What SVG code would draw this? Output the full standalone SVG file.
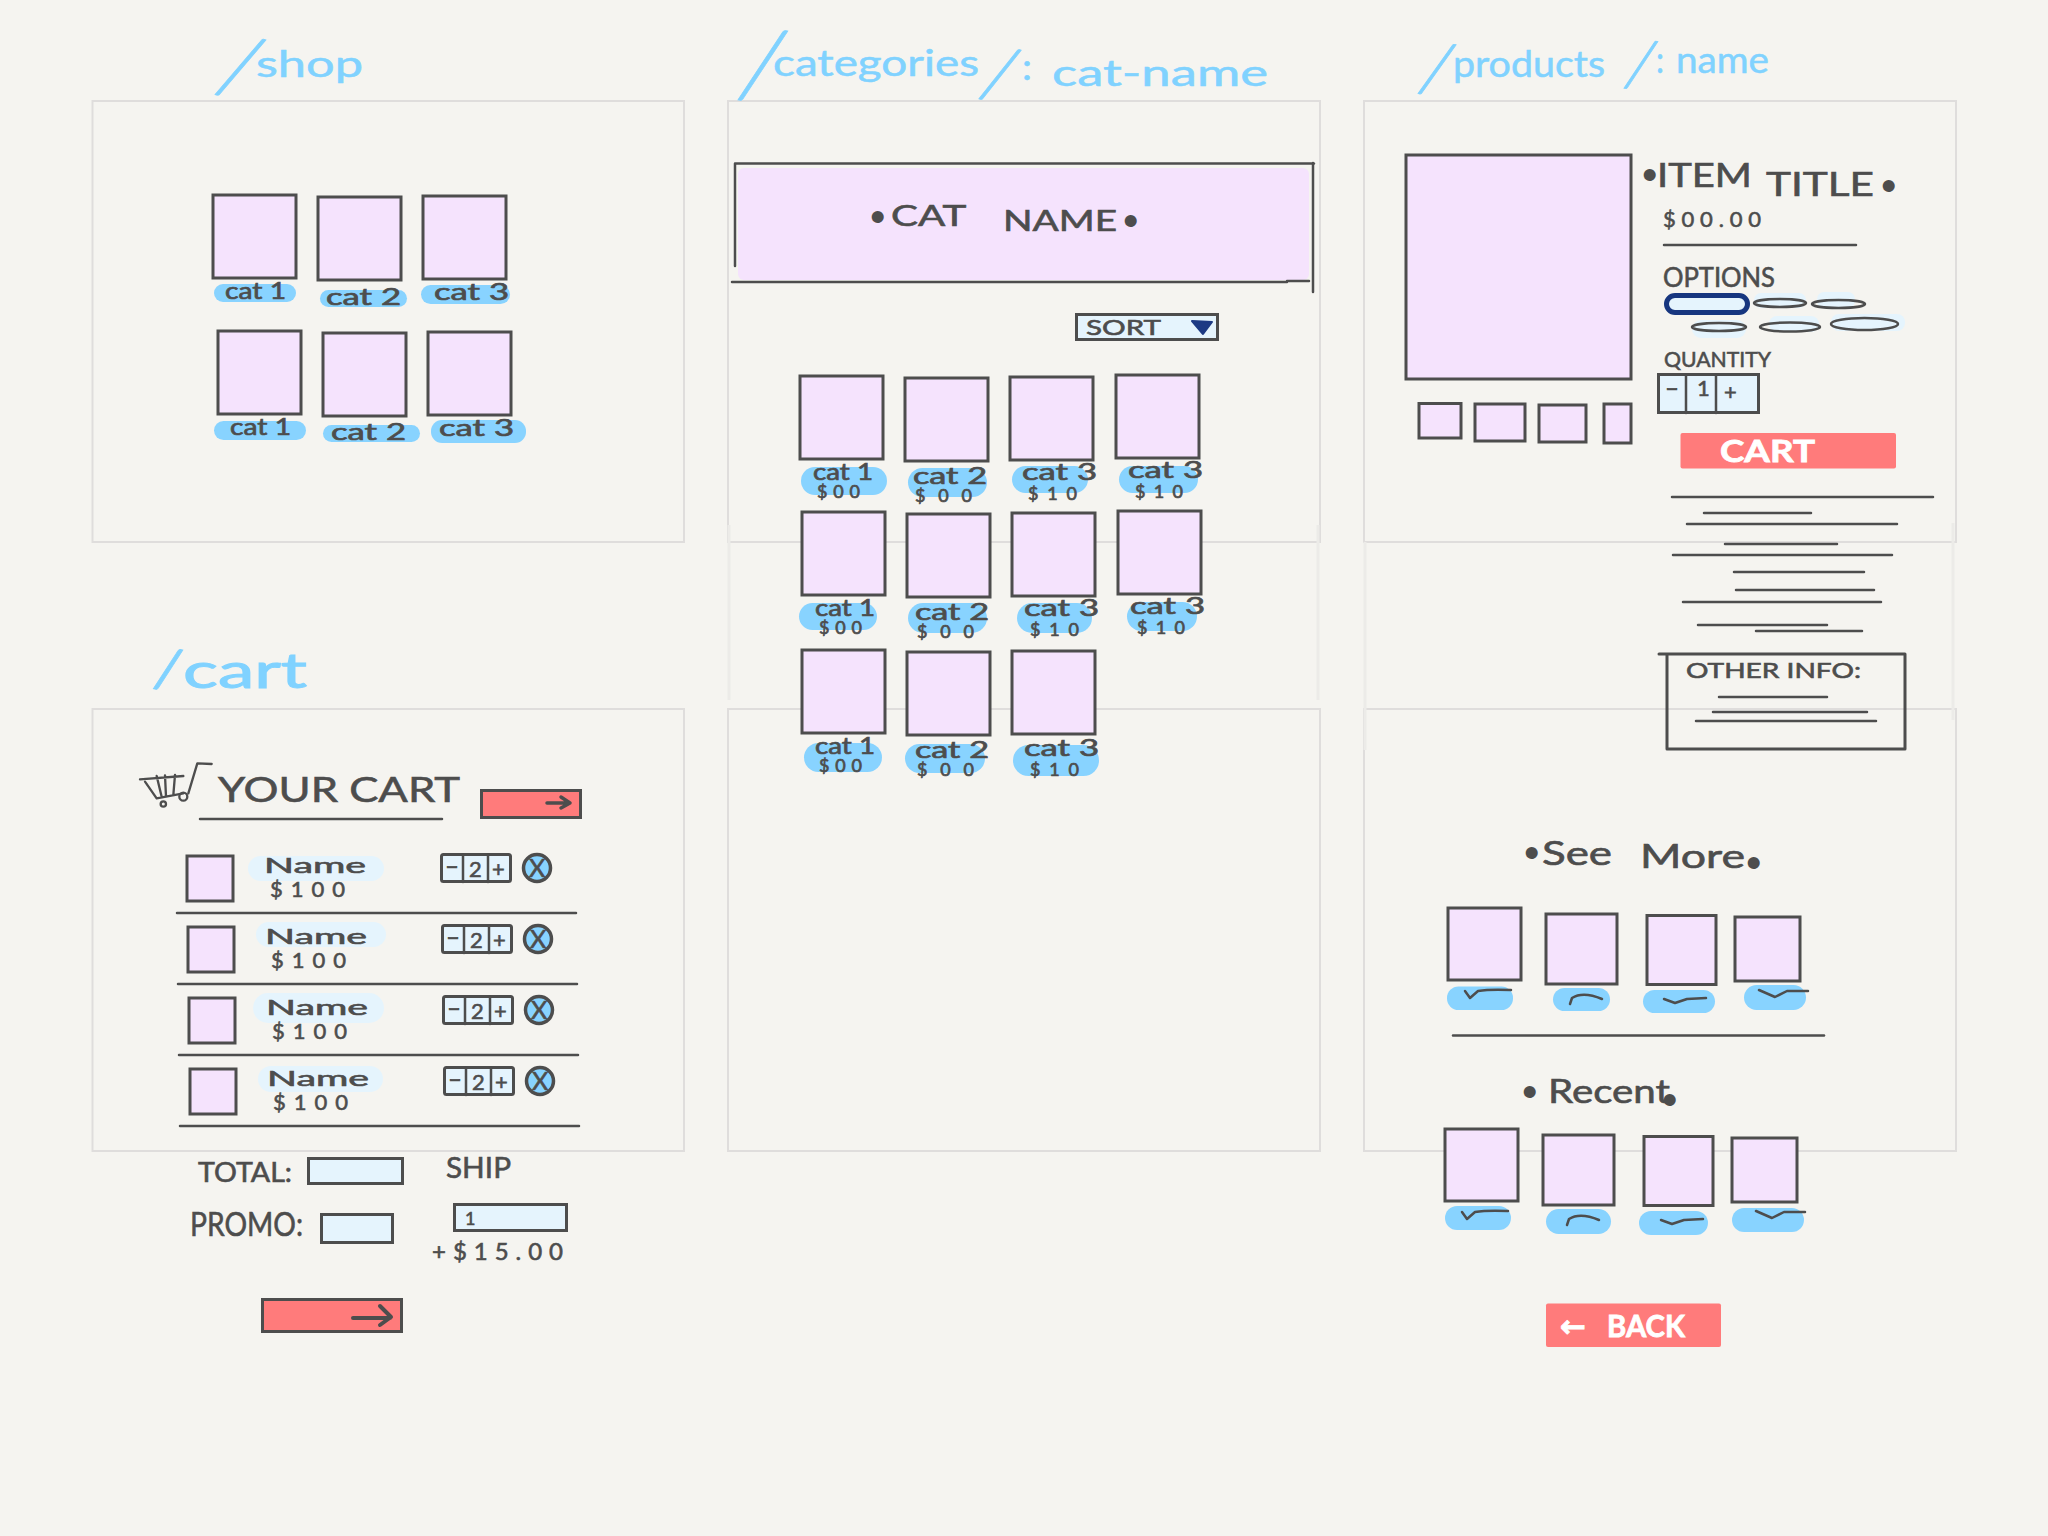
<svg xmlns="http://www.w3.org/2000/svg" width="2048" height="1536" viewBox="0 0 2048 1536">
<defs><style>
text{font-family:"Lato","Liberation Sans",sans-serif;fill:#4d4d4d;stroke:#4d4d4d;stroke-width:.6}
.fr{fill:none;stroke:#dfdddc;stroke-width:2}
.fa{fill:none;stroke:#ecebe8;stroke-width:3}
.sq{fill:#f5e3fd;stroke:#4d4d4d;stroke-width:3}
.bx{fill:#e5f4fd;stroke:#4d4d4d;stroke-width:3}
.rd{fill:#ff7b7b;stroke:#4d4d4d;stroke-width:3}
.pl{fill:#88d3ff}
.lb{fill:#e5f4fd}
.ln{fill:none;stroke:#4d4d4d;stroke-width:2.500;stroke-linecap:round;stroke-linejoin:round}
.ti{font-size:36px;fill:#80d2ff;stroke:#80d2ff;stroke-width:.5}
.sl{font-weight:300;fill:#80d2ff;stroke-width:.8}
.cl{font-size:24px;stroke-width:.7}
.pr{font-size:18px;stroke-width:.7}
.m{font-size:22px}
.h{font-size:28px}
.d{font-size:44px;font-family:"Liberation Sans",sans-serif;stroke:none}
.w{fill:#fff;stroke:#fff;stroke-width:.8;font-weight:700}
</style></defs>
<rect width="2048" height="1536" fill="#f5f4f0"/>
<g id="frames">
<rect class="fr" x="92.500" y="101" width="591.500" height="441"/>
<rect class="fr" x="728" y="101" width="592" height="441"/>
<rect class="fr" x="1364" y="101" width="592" height="441"/>
<rect class="fr" x="92.500" y="709" width="591.500" height="442"/>
<rect class="fr" x="728" y="709" width="592" height="442"/>
<rect class="fr" x="1364" y="709" width="592" height="442"/>
<path class="fa" d="M729 525V700M1318 525V700M1365 542V750M1953 523V720"/>
</g>
<g id="title-shop"><text class="ti"><tspan class="sl" x="213" y="90" font-size="88" rotate="18">/</tspan><tspan x="256" y="77" textLength="107" lengthAdjust="spacingAndGlyphs">shop</tspan></text></g>
<g id="title-categories"><text class="ti"><tspan class="sl" x="735" y="95" font-size="100" rotate="11">/</tspan><tspan x="773" y="76" textLength="206" lengthAdjust="spacingAndGlyphs">categories</tspan><tspan class="sl" x="977" y="95" font-size="76" rotate="16">/</tspan><tspan x="1022" y="80" textLength="10" lengthAdjust="spacingAndGlyphs">:</tspan><tspan x="1052" y="86" textLength="216" lengthAdjust="spacingAndGlyphs">cat-name</tspan></text></g>
<g id="title-products"><text class="ti"><tspan class="sl" x="1416" y="90" font-size="73" rotate="13">/</tspan><tspan x="1453" y="77" textLength="152" lengthAdjust="spacingAndGlyphs">products</tspan><tspan class="sl" x="1622" y="85" font-size="68" rotate="11">/</tspan><tspan x="1656" y="73" textLength="8" lengthAdjust="spacingAndGlyphs">:</tspan><tspan x="1676" y="73" textLength="93" lengthAdjust="spacingAndGlyphs">name</tspan></text></g>
<g id="title-cart"><text class="ti" style="font-size:48px;stroke-width:1"><tspan class="sl" x="152" y="686" font-size="56" rotate="11" style="font-weight:400">/</tspan><tspan x="183" y="688" textLength="124" lengthAdjust="spacingAndGlyphs">cart</tspan></text></g>

<g id="shop-page">
<g id="shop-1"><rect class="pl" x="214" y="284" width="82" height="18" rx="9"/><rect class="sq" x="213" y="195" width="83" height="83"/><text class="cl" x="225" y="299" textLength="61" lengthAdjust="spacingAndGlyphs">cat 1</text></g>
<g id="shop-2"><rect class="pl" x="320" y="290" width="87" height="17" rx="8.500"/><rect class="sq" x="318" y="197" width="83" height="83"/><text class="cl" x="326" y="305" textLength="75" lengthAdjust="spacingAndGlyphs">cat 2</text></g>
<g id="shop-3"><rect class="pl" x="421" y="285" width="89" height="19" rx="9.500"/><rect class="sq" x="423" y="196" width="83" height="83"/><text class="cl" x="434" y="300" textLength="75" lengthAdjust="spacingAndGlyphs">cat 3</text></g>
<g id="shop-4"><rect class="pl" x="214" y="421" width="92" height="19" rx="9.500"/><rect class="sq" x="218" y="331" width="83" height="83"/><text class="cl" x="230" y="435" textLength="61" lengthAdjust="spacingAndGlyphs">cat 1</text></g>
<g id="shop-5"><rect class="pl" x="323" y="425" width="97" height="17" rx="8.500"/><rect class="sq" x="323" y="333" width="83" height="83"/><text class="cl" x="331" y="440" textLength="75" lengthAdjust="spacingAndGlyphs">cat 2</text></g>
<g id="shop-6"><rect class="pl" x="431" y="420" width="95" height="23" rx="11"/><rect class="sq" x="428" y="332" width="83" height="83"/><text class="cl" x="439" y="436" textLength="75" lengthAdjust="spacingAndGlyphs">cat 3</text></g>
</g>

<g id="category-page">
<g id="banner"><rect x="738" y="168" width="571" height="112" rx="6" fill="#f5e3fd"/><path class="ln" d="M735 266V163.500H1314M1313 163V292M732 282H1287M1287 281H1309"/>
<text class="h"><tspan class="d" x="870" y="232">•</tspan><tspan x="891" y="226" textLength="74" lengthAdjust="spacingAndGlyphs">CAT</tspan> <tspan x="1003" y="231" textLength="114" lengthAdjust="spacingAndGlyphs">NAME</tspan><tspan class="d" x="1123" y="236">•</tspan></text></g>
<g id="sort"><rect class="bx" x="1076.500" y="314.500" width="141" height="25"/><text x="1086" y="335" font-size="22" textLength="75" lengthAdjust="spacingAndGlyphs">SORT</text><path d="M1192 321L1212 322L1203 334Z" fill="#1d3a84" stroke="#1d3a84" stroke-width="2" stroke-linejoin="round"/></g>

<g id="cat-1"><rect class="pl" x="801" y="467" width="86" height="28" rx="14"/><rect class="sq" x="800" y="376" width="83" height="83"/><text class="cl" x="813" y="480" textLength="60" lengthAdjust="spacingAndGlyphs">cat 1</text><text class="pr" x="817" y="498" textLength="43">$00</text></g>
<g id="cat-2"><rect class="pl" x="908" y="468" width="79" height="29" rx="14.500"/><rect class="sq" x="905" y="378" width="83" height="83"/><text class="cl" x="913" y="484" textLength="74" lengthAdjust="spacingAndGlyphs">cat 2</text><text class="pr" x="915" y="502" textLength="57">$00</text></g>
<g id="cat-3"><rect class="pl" x="1012" y="466" width="76" height="27" rx="13.500"/><rect class="sq" x="1010" y="377" width="83" height="83"/><text class="cl" x="1022" y="480" textLength="75" lengthAdjust="spacingAndGlyphs">cat 3</text><text class="pr" x="1028" y="500" textLength="49">$10</text></g>
<g id="cat-4"><rect class="pl" x="1119" y="466" width="79" height="27" rx="13.500"/><rect class="sq" x="1116" y="375" width="83" height="83"/><text class="cl" x="1128" y="478" textLength="75" lengthAdjust="spacingAndGlyphs">cat 3</text><text class="pr" x="1135" y="498" textLength="48">$10</text></g>
<g id="cat-5"><rect class="pl" x="799" y="603" width="78" height="27" rx="13.500"/><rect class="sq" x="802" y="512" width="83" height="83"/><text class="cl" x="815" y="616" textLength="60" lengthAdjust="spacingAndGlyphs">cat 1</text><text class="pr" x="819" y="634" textLength="43">$00</text></g>
<g id="cat-6"><rect class="pl" x="908" y="603" width="79" height="30" rx="15"/><rect class="sq" x="907" y="514" width="83" height="83"/><text class="cl" x="915" y="620" textLength="74" lengthAdjust="spacingAndGlyphs">cat 2</text><text class="pr" x="917" y="638" textLength="57">$00</text></g>
<g id="cat-7"><rect class="pl" x="1017" y="603" width="75" height="30" rx="15"/><rect class="sq" x="1012" y="513" width="83" height="83"/><text class="cl" x="1024" y="616" textLength="75" lengthAdjust="spacingAndGlyphs">cat 3</text><text class="pr" x="1030" y="636" textLength="49">$10</text></g>
<g id="cat-8"><rect class="pl" x="1127" y="602" width="70" height="29" rx="14.500"/><rect class="sq" x="1118" y="511" width="83" height="83"/><text class="cl" x="1130" y="614" textLength="75" lengthAdjust="spacingAndGlyphs">cat 3</text><text class="pr" x="1137" y="634" textLength="48">$10</text></g>
<g id="cat-9"><rect class="pl" x="804" y="743" width="78" height="29" rx="14.500"/><rect class="sq" x="802" y="650" width="83" height="83"/><text class="cl" x="815" y="754" textLength="60" lengthAdjust="spacingAndGlyphs">cat 1</text><text class="pr" x="819" y="772" textLength="43">$00</text></g>
<g id="cat-10"><rect class="pl" x="905" y="744" width="80" height="29" rx="14.500"/><rect class="sq" x="907" y="652" width="83" height="83"/><text class="cl" x="915" y="758" textLength="74" lengthAdjust="spacingAndGlyphs">cat 2</text><text class="pr" x="917" y="776" textLength="57">$00</text></g>
<g id="cat-11"><rect class="pl" x="1013" y="745" width="86" height="31" rx="15.500"/><rect class="sq" x="1012" y="651" width="83" height="83"/><text class="cl" x="1024" y="756" textLength="75" lengthAdjust="spacingAndGlyphs">cat 3</text><text class="pr" x="1030" y="776" textLength="49">$10</text></g>
</g>

<g id="product-page">
<rect class="sq" x="1406" y="155" width="225" height="224"/>
<rect class="sq" x="1419" y="403.500" width="42" height="34.500"/>
<rect class="sq" x="1475" y="404" width="50" height="37"/>
<rect class="sq" x="1539" y="405" width="47" height="37"/>
<rect class="sq" x="1604" y="404" width="27" height="39"/>
<g id="item-title"><text font-size="32"><tspan class="d" x="1642" y="190">•</tspan><tspan x="1657" y="187" textLength="95" lengthAdjust="spacingAndGlyphs">ITEM</tspan> <tspan x="1766" y="196" textLength="108" lengthAdjust="spacingAndGlyphs">TITLE</tspan><tspan class="d" x="1881" y="201">•</tspan></text></g>
<text class="m" x="1663" y="227" textLength="98">$00.00</text>
<path class="ln" d="M1664 245H1856"/>
<text x="1663" y="287" font-size="26" textLength="112" lengthAdjust="spacingAndGlyphs">OPTIONS</text>
<g id="options">
<rect class="lb" x="1754" y="293" width="52" height="15" rx="7"/><rect class="lb" x="1817" y="292" width="38" height="16" rx="7"/><rect class="lb" x="1692" y="320" width="54" height="18" rx="9"/><rect class="lb" x="1769" y="316" width="50" height="16" rx="8"/><rect class="lb" x="1831" y="314" width="74" height="17" rx="8"/>
<rect x="1666.500" y="295.500" width="81" height="17" rx="8.500" fill="#e5f4fd" stroke="#17367f" stroke-width="5"/>
<ellipse class="ln" cx="1780" cy="303" rx="26" ry="4"/><ellipse class="ln" cx="1838.500" cy="304" rx="26.500" ry="4"/><ellipse class="ln" cx="1719" cy="327" rx="27" ry="4"/><ellipse class="ln" cx="1790" cy="327" rx="30" ry="4.500"/><ellipse class="ln" cx="1864.500" cy="324" rx="33.500" ry="6"/>
</g>
<text x="1664" y="367" font-size="22" textLength="107" lengthAdjust="spacingAndGlyphs">QUANTITY</text>
<g id="qty"><rect class="bx" x="1658.500" y="374.500" width="100" height="38"/><path class="ln" d="M1686 375V413M1716 375V413"/><text class="m" x="1665" y="396" textLength="14" lengthAdjust="spacingAndGlyphs">-</text><text class="m" x="1697" y="396">1</text><text class="m" x="1724" y="400">+</text></g>
<g id="cart-button"><rect x="1680.500" y="433" width="215.500" height="35.500" rx="2" fill="#ff7b7b"/><text class="w" x="1720" y="462" font-size="31" textLength="95" lengthAdjust="spacingAndGlyphs">CART</text></g>
<path class="ln" d="M1672 497H1933M1704 513H1811M1687 524H1897M1725 544H1837M1673 555H1892M1734 572H1864M1736 590H1874M1683 602H1881M1698 625H1827M1756 631H1862"/>
<g id="other-info"><path class="ln" style="stroke-width:3" d="M1659 654H1905V749H1667V654"/><text x="1686" y="678" font-size="21" textLength="175" lengthAdjust="spacingAndGlyphs">OTHER INFO:</text><path class="ln" d="M1719 697H1827M1713 712H1867M1696 721H1876"/></g>
<g id="see-more"><text font-size="33"><tspan class="d" x="1524" y="868">•</tspan><tspan x="1542" y="865" textLength="70" lengthAdjust="spacingAndGlyphs">See</tspan> <tspan x="1640" y="868" textLength="105" lengthAdjust="spacingAndGlyphs">More</tspan><tspan class="d" x="1746" y="878">•</tspan></text></g>
<g id="see-1"><rect class="pl" x="1447" y="986.500" width="66" height="23.500" rx="11.500"/><rect class="sq" x="1448" y="908" width="73" height="72"/><path class="ln" d="M1465 991L1470 998L1478 991Q1490 989 1511 990"/></g>
<g id="see-2"><rect class="pl" x="1553" y="988" width="57" height="23" rx="11.500"/><rect class="sq" x="1546" y="914" width="71" height="70"/><path class="ln" d="M1570 1004L1572 998Q1583 991 1602 999"/></g>
<g id="see-3"><rect class="pl" x="1643" y="990" width="72" height="23" rx="11.500"/><rect class="sq" x="1647" y="915.500" width="69" height="69"/><path class="ln" d="M1664 999L1675 1003L1687 999L1706 998"/></g>
<g id="see-4"><rect class="pl" x="1744" y="985" width="62" height="25" rx="12.500"/><rect class="sq" x="1735" y="917" width="65" height="64"/><path class="ln" d="M1759 990L1775 997L1787 991L1808 991"/></g>
<path class="ln" d="M1453 1035.500H1824"/>
<g id="recent"><text font-size="33"><tspan class="d" x="1522" y="1107">•</tspan><tspan x="1548" y="1103" textLength="122" lengthAdjust="spacingAndGlyphs">Recent</tspan><tspan class="d" x="1662" y="1115">•</tspan></text></g>
<g id="recent-1"><rect class="pl" x="1445" y="1206" width="66" height="24" rx="12"/><rect class="sq" x="1445" y="1129" width="73" height="72"/><path class="ln" d="M1462 1212L1467 1219L1475 1212Q1487 1210 1508 1211"/></g>
<g id="recent-2"><rect class="pl" x="1546" y="1209" width="65" height="25" rx="12.500"/><rect class="sq" x="1543" y="1135" width="71" height="70"/><path class="ln" d="M1567 1225L1569 1219Q1580 1212 1599 1220"/></g>
<g id="recent-3"><rect class="pl" x="1639" y="1211" width="69" height="24" rx="12"/><rect class="sq" x="1644" y="1136.500" width="69" height="69"/><path class="ln" d="M1661 1220L1672 1224L1684 1220L1703 1219"/></g>
<g id="recent-4"><rect class="pl" x="1732" y="1208" width="72" height="24" rx="12"/><rect class="sq" x="1732" y="1138" width="65" height="64"/><path class="ln" d="M1756 1211L1772 1218L1784 1212L1805 1212"/></g>
<g id="back"><rect x="1546" y="1303.500" width="175" height="43.500" rx="2" fill="#ff7b7b"/><text class="w" font-size="31"><tspan x="1560" y="1337" font-family="DejaVu Sans">←</tspan> <tspan x="1607" y="1337" textLength="78" lengthAdjust="spacingAndGlyphs">BACK</tspan></text></g>
</g>

<g id="cart-page">
<g id="cart-icon" transform="translate(120 630) scale(.3333)"><path class="ln" style="stroke-width:7" d="M275 402L232 400L205 490M60 448L190 438M75 455L110 505L190 490M110 438L125 500M135 436L138 500M165 435L160 495"/><circle class="ln" style="stroke-width:7" cx="130" cy="522" r="8"/><circle class="ln" style="stroke-width:7" cx="190" cy="500" r="12"/></g>
<text x="218" y="802" font-size="35" textLength="242" lengthAdjust="spacingAndGlyphs">YOUR CART</text>
<path class="ln" d="M200 819H442"/>
<g id="next-top"><rect class="rd" x="481.500" y="790.500" width="99" height="27"/><path class="ln" style="stroke-width:3.500" d="M547 803H570M561 797L570 803L561 808"/></g>
<g id="row-1"><rect class="sq" x="187" y="856" width="46" height="45"/><rect class="lb" x="248" y="856" width="136" height="25" rx="12.500"/><text class="m" x="264" y="873" font-size="25" textLength="102" lengthAdjust="spacingAndGlyphs">Name</text><text class="m" x="270" y="897" textLength="75">$100</text><rect class="bx" x="441.500" y="854.500" width="69" height="27" rx="2"/><path class="ln" d="M463 855V882M488 855V882"/><text class="m" x="445" y="874" textLength="14" lengthAdjust="spacingAndGlyphs">-</text><text class="m" x="469" y="877" font-size="25">2</text><text class="m" x="492" y="877" font-size="25">+</text><circle class="pl" cx="537" cy="868" r="13.500" stroke="#4d4d4d" stroke-width="3.500"/><text x="529" y="877" font-size="25">X</text></g>
<path class="ln" d="M177 913H576"/>
<g id="row-2"><rect class="sq" x="188" y="927" width="46" height="45"/><rect class="lb" x="256" y="922" width="130" height="25" rx="12.500"/><text class="m" x="265" y="944" font-size="25" textLength="102" lengthAdjust="spacingAndGlyphs">Name</text><text class="m" x="271" y="968" textLength="75">$100</text><rect class="bx" x="442.500" y="925.500" width="69" height="27" rx="2"/><path class="ln" d="M464 926V953M489 926V953"/><text class="m" x="446" y="945" textLength="14" lengthAdjust="spacingAndGlyphs">-</text><text class="m" x="470" y="948" font-size="25">2</text><text class="m" x="493" y="948" font-size="25">+</text><circle class="pl" cx="538" cy="939" r="13.500" stroke="#4d4d4d" stroke-width="3.500"/><text x="530" y="948" font-size="25">X</text></g>
<path class="ln" d="M178 984H577"/>
<g id="row-3"><rect class="sq" x="189" y="998" width="46" height="45"/><rect class="lb" x="253" y="993" width="131" height="30" rx="15"/><text class="m" x="266" y="1015" font-size="25" textLength="102" lengthAdjust="spacingAndGlyphs">Name</text><text class="m" x="272" y="1039" textLength="75">$100</text><rect class="bx" x="443.500" y="996.500" width="69" height="27" rx="2"/><path class="ln" d="M465 997V1024M490 997V1024"/><text class="m" x="447" y="1016" textLength="14" lengthAdjust="spacingAndGlyphs">-</text><text class="m" x="471" y="1019" font-size="25">2</text><text class="m" x="494" y="1019" font-size="25">+</text><circle class="pl" cx="539" cy="1010" r="13.500" stroke="#4d4d4d" stroke-width="3.500"/><text x="531" y="1019" font-size="25">X</text></g>
<path class="ln" d="M179 1055H578"/>
<g id="row-4"><rect class="sq" x="190" y="1069" width="46" height="45"/><rect class="lb" x="258" y="1066" width="125" height="26" rx="13"/><text class="m" x="267" y="1086" font-size="25" textLength="102" lengthAdjust="spacingAndGlyphs">Name</text><text class="m" x="273" y="1110" textLength="75">$100</text><rect class="bx" x="444.500" y="1067.500" width="69" height="27" rx="2"/><path class="ln" d="M466 1068V1095M491 1068V1095"/><text class="m" x="448" y="1087" textLength="14" lengthAdjust="spacingAndGlyphs">-</text><text class="m" x="472" y="1090" font-size="25">2</text><text class="m" x="495" y="1090" font-size="25">+</text><circle class="pl" cx="540" cy="1081" r="13.500" stroke="#4d4d4d" stroke-width="3.500"/><text x="532" y="1090" font-size="25">X</text></g>
<path class="ln" d="M180 1126H579"/>
<text x="198" y="1182" font-size="27" textLength="94" lengthAdjust="spacingAndGlyphs">TOTAL:</text>
<rect class="bx" x="308.500" y="1158.500" width="94" height="25"/>
<text x="446" y="1178" font-size="29" textLength="65" lengthAdjust="spacingAndGlyphs">SHIP</text>
<text x="190" y="1236" font-size="33" textLength="113" lengthAdjust="spacingAndGlyphs">PROMO:</text>
<rect class="bx" x="321.500" y="1214.500" width="71" height="28"/>
<rect class="bx" x="454.500" y="1204.500" width="112" height="26"/>
<text x="465" y="1225" font-size="18">1</text>
<text x="432" y="1260" font-size="24" textLength="131">+$15.00</text>
<g id="next-bottom"><rect class="rd" x="262.500" y="1299.500" width="139" height="32"/><path class="ln" style="stroke-width:4" d="M353 1318H390M380 1306L391 1317L380 1325"/></g>
</g>
</svg>
